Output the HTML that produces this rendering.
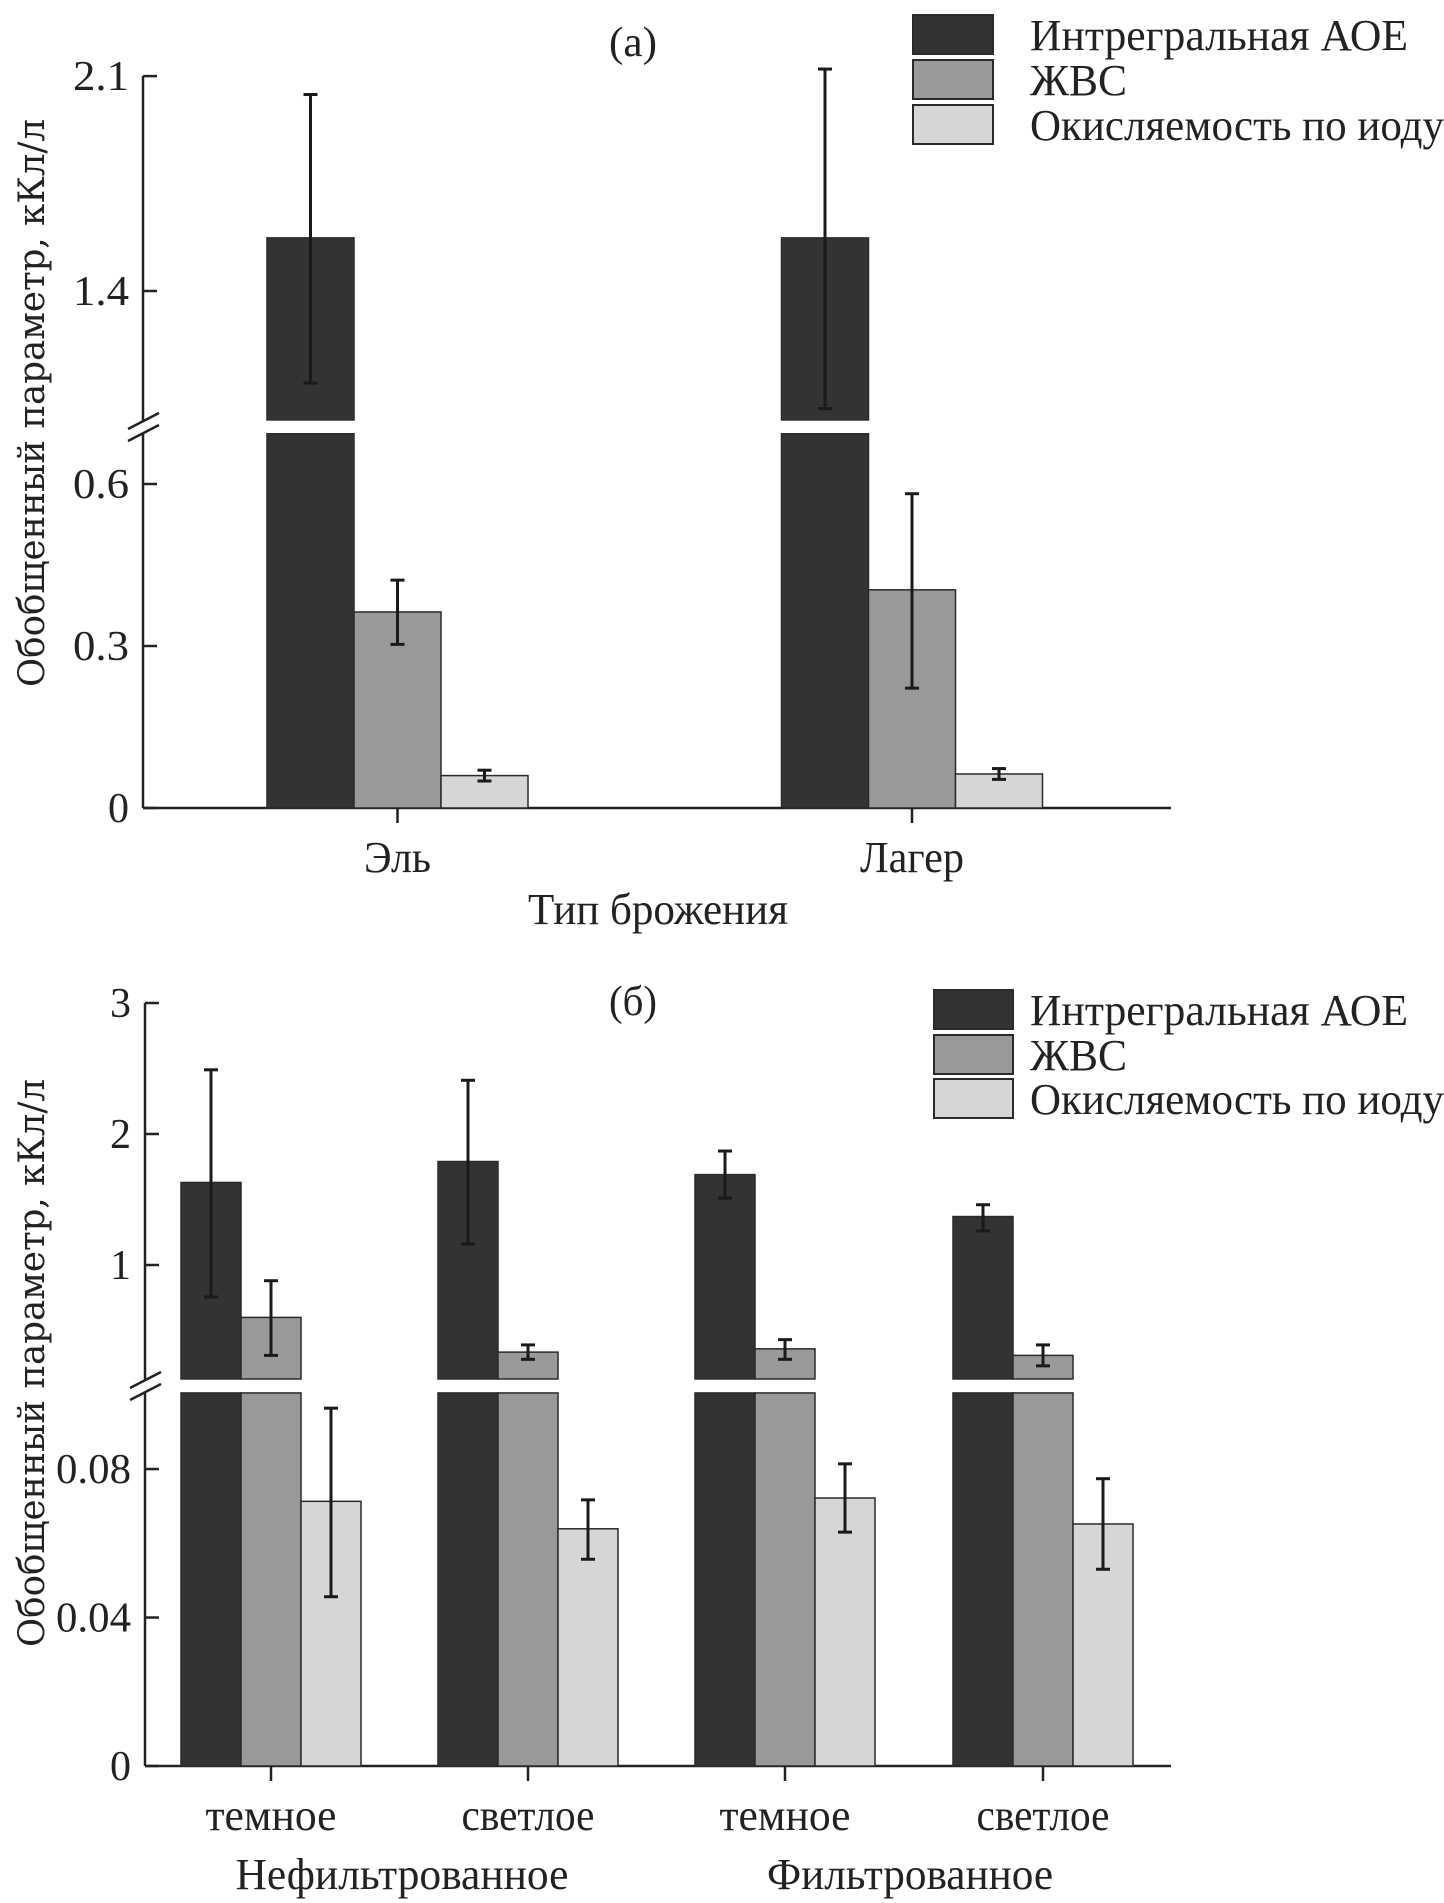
<!DOCTYPE html>
<html><head><meta charset="utf-8">
<style>
html,body{margin:0;padding:0;background:#fff;}
svg{display:block;}
text{font-family:"Liberation Serif",serif;fill:#222;}
</style></head>
<body>
<svg id="chart" width="1444" height="1903" viewBox="0 0 1444 1903" xmlns="http://www.w3.org/2000/svg">
  <g id="panelA"></g>
  <g id="panelB"></g>
</svg>
<script>
// ---- Panel (a) data ----
const catsA = ["Эль", "Лагер"];
const aoeA = [1.573, 1.573];
const aoeErrLoA = [1.10, 1.017];
const aoeErrHiA = [2.04, 2.123];
const zhvsA = [0.363, 0.404];
const zhvsErrLoA = [0.303, 0.222];
const zhvsErrHiA = [0.422, 0.582];
const oxA = [0.060, 0.063];
const oxErrLoA = [0.050, 0.053];
const oxErrHiA = [0.070, 0.073];
const ticksLowA = [0, 0.3, 0.6];
const ticksLowLabelsA = ["0", "0.3", "0.6"];
const ticksUpA = [1.4, 2.1];
const ticksUpLabelsA = ["1.4", "2.1"];

// ---- Panel (б) data ----
const catsB = ["темное", "светлое", "темное", "светлое"];
const groupsB = ["Нефильтрованное", "Фильтрованное"];
const aoeB = [1.63, 1.79, 1.69, 1.37];
const aoeErrLoB = [0.756, 1.16, 1.51, 1.26];
const aoeErrHiB = [2.49, 2.41, 1.87, 1.46];
const zhvsB = [0.60, 0.335, 0.36, 0.31];
const zhvsErrLoB = [0.31, 0.28, 0.28, 0.23];
const zhvsErrHiB = [0.88, 0.39, 0.43, 0.39];
const oxB = [0.0713, 0.0639, 0.0722, 0.0652];
const oxErrLoB = [0.0456, 0.0557, 0.063, 0.053];
const oxErrHiB = [0.0964, 0.0717, 0.0814, 0.0774];
const ticksLowB = [0, 0.04, 0.08];
const ticksLowLabelsB = ["0", "0.04", "0.08"];
const ticksUpB = [1, 2, 3];
const ticksUpLabelsB = ["1", "2", "3"];

const legendLabels = ["Интрегральная АОЕ", "ЖВС", "Окисляемость по иоду"];
const legendLens = [378, 97, 414];
const COLORS = ["#333333", "#98999b", "#d5d6d8"];

const NS = "http://www.w3.org/2000/svg";
function mk(parent, tag, attrs, txt){
  const e = document.createElementNS(NS, tag);
  for (const k in attrs) e.setAttribute(k, attrs[k]);
  if (txt !== undefined) e.textContent = txt;
  parent.appendChild(e);
  return e;
}
function labelLen(s){ // approximate condensed-serif width
  const map = {"Эль":67,"Лагер":104,"темное":131,"светлое":133};
  return map[s];
}
function tickLen(s){ return s.length === 1 ? 21 : (s.length === 3 ? 56 : 75); }

function drawPanel(g, cfg){
  const lowY = v => cfg.low0 - cfg.lowK * v;
  const upY = v => cfg.upRefPx - cfg.upK * (v - cfg.upRef);
  const valY = v => v > cfg.lowTopVal ? upY(v) : lowY(v);

  let e;
  e = mk(g, "line", {x1:cfg.ax, y1:cfg.axTop, x2:cfg.ax, y2:cfg.breakY - 5, stroke:"#222", "stroke-width":2.5});
  
  
  e = mk(g, "line", {x1:cfg.ax, y1:cfg.breakY + 6, x2:cfg.ax, y2:cfg.low0, stroke:"#222", "stroke-width":2.5});
  
  
  for (const d of [-6, 6]) {
    e = mk(g, "line", {x1:cfg.ax-15, y1:cfg.breakY+d+8, x2:cfg.ax+16, y2:cfg.breakY+d-8, stroke:"#222", "stroke-width":2.5});
    
    
  }
  e = mk(g, "line", {x1:cfg.ax, y1:cfg.low0, x2:cfg.axRight, y2:cfg.low0, stroke:"#222", "stroke-width":2.5});
  
  

  function tick(y, lab){
    let t = mk(g, "line", {x1:cfg.ax, y1:y, x2:cfg.ax+14, y2:y, stroke:"#222", "stroke-width":2.5});
    
    
    let l = mk(g, "text", {x:cfg.ax-14, y:y+14, "text-anchor":"end", "font-size":42, textLength:tickLen(lab), lengthAdjust:"spacingAndGlyphs"}, lab);
    
    
  }
  cfg.ticksLow.forEach((v,i)=>tick(lowY(v), cfg.ticksLowLabels[i]));
  cfg.ticksUp.forEach((v,i)=>tick(upY(v), cfg.ticksUpLabels[i]));

  const n = cfg.cats.length;
  const series = cfg.series;
  for (let i=0;i<n;i++){
    const cx = cfg.centers[i];
    for (let s=0;s<3;s++){
      const x = cx + (s-1.5)*cfg.bw;
      const v = series[s].v[i];
      const upBottomPx = upY(cfg.upBottomVal);
      const lowTopPx = lowY(cfg.lowTopVal);
      if (v > cfg.lowTopVal){
        let r = mk(g, "rect", {x:x, y:lowTopPx, width:cfg.bw, height:cfg.low0-lowTopPx, fill:COLORS[s], stroke:"#2a2a2a", "stroke-width":1.5});
        
        
        const ty = upY(v);
        let r2 = mk(g, "rect", {x:x, y:ty, width:cfg.bw, height:upBottomPx-ty, fill:COLORS[s], stroke:"#2a2a2a", "stroke-width":1.5});
        
        
      } else {
        const ty = lowY(v);
        let r = mk(g, "rect", {x:x, y:ty, width:cfg.bw, height:cfg.low0-ty, fill:COLORS[s], stroke:"#2a2a2a", "stroke-width":1.5});
        
        
      }
      const ex = x + cfg.bw/2;
      const y1 = valY(series[s].hi[i]), y2 = valY(series[s].lo[i]);
      const eg = mk(g, "g", {stroke:"#1a1a1a", "stroke-width":3});
      
      
      mk(eg, "line", {x1:ex, y1:y1, x2:ex, y2:y2});
      mk(eg, "line", {x1:ex-7, y1:y1, x2:ex+7, y2:y1});
      mk(eg, "line", {x1:ex-7, y1:y2, x2:ex+7, y2:y2});
    }
    let t = mk(g, "line", {x1:cx, y1:cfg.low0, x2:cx, y2:cfg.low0+15, stroke:"#222", "stroke-width":2.5});
    
    
    let l = mk(g, "text", {x:cx, y:cfg.catY, "text-anchor":"middle", "font-size":44, textLength:labelLen(cfg.cats[i]), lengthAdjust:"spacingAndGlyphs"}, cfg.cats[i]);
    
    
  }

  cfg.legendYs.forEach((ly, k)=>{
    let r = mk(g, "rect", {x:cfg.legX, y:ly, width:cfg.legW, height:39, fill:COLORS[k], stroke:"#2a2a2a", "stroke-width":2});
    
    
    let t = mk(g, "text", {x:1030, y:ly+35, "font-size":44, textLength:legendLens[k], lengthAdjust:"spacingAndGlyphs"}, legendLabels[k]);
    
    
  });

  let pt = mk(g, "text", {x:633, y:cfg.titleY, "text-anchor":"middle", "font-size":42, textLength:48, lengthAdjust:"spacingAndGlyphs"}, cfg.title);
  
  

  let yt = mk(g, "text", {x:0, y:0, "text-anchor":"middle", "font-size":36, textLength:cfg.yTitleLen, lengthAdjust:"spacingAndGlyphs",
    transform:"translate(44," + cfg.yTitleC + ") rotate(-90)", style:"font-family:'DejaVu Serif','Liberation Serif',serif"}, "Обобщенный параметр, кКл/л");
  
  
}

const gA = document.getElementById("panelA");
drawPanel(gA, {
  ax:143, axRight:1171, axTop:76, low0:808, lowK:540, upRef:1.4, upRefPx:291, upK:307,
  lowTopVal:0.693, upBottomVal:0.98, breakY:427,
  cats:catsA, centers:[397.5, 912], bw:87, catY:872,
  ticksLow:ticksLowA, ticksLowLabels:ticksLowLabelsA, ticksUp:ticksUpA, ticksUpLabels:ticksUpLabelsA,
  series:[{key:"aoe", v:aoeA, lo:aoeErrLoA, hi:aoeErrHiA},{key:"zhvs", v:zhvsA, lo:zhvsErrLoA, hi:zhvsErrHiA},{key:"ox", v:oxA, lo:oxErrLoA, hi:oxErrHiA}],
  legX:913, legW:80, legendYs:[15, 60, 105], title:"(а)", titleY:56, yTitleC:403, yTitleLen:568
});
let xtA = mk(gA, "text", {x:658, y:924, "text-anchor":"middle", "font-size":44, textLength:260, lengthAdjust:"spacingAndGlyphs"}, "Тип брожения");



const gB = document.getElementById("panelB");
drawPanel(gB, {
  ax:145, axRight:1171, axTop:1003, low0:1766, lowK:3712, upRef:1, upRefPx:1265, upK:131,
  lowTopVal:0.1005, upBottomVal:0.13, breakY:1386,
  cats:catsB, centers:[271, 528, 785, 1043], bw:60, catY:1830,
  ticksLow:ticksLowB, ticksLowLabels:ticksLowLabelsB, ticksUp:ticksUpB, ticksUpLabels:ticksUpLabelsB,
  series:[{key:"aoe", v:aoeB, lo:aoeErrLoB, hi:aoeErrHiB},{key:"zhvs", v:zhvsB, lo:zhvsErrLoB, hi:zhvsErrHiB},{key:"ox", v:oxB, lo:oxErrLoB, hi:oxErrHiB}],
  legX:934, legW:79, legendYs:[990, 1035, 1079], title:"(б)", titleY:1015, yTitleC:1363, yTitleLen:568
});
const groupCentersB = [402, 910];
const groupLensB = [333, 286];
groupsB.forEach((gname, i)=>{
  let t = mk(gB, "text", {x:groupCentersB[i], y:1889, "text-anchor":"middle", "font-size":44, textLength:groupLensB[i], lengthAdjust:"spacingAndGlyphs"}, gname);
  
  
});
</script>
</body></html>
